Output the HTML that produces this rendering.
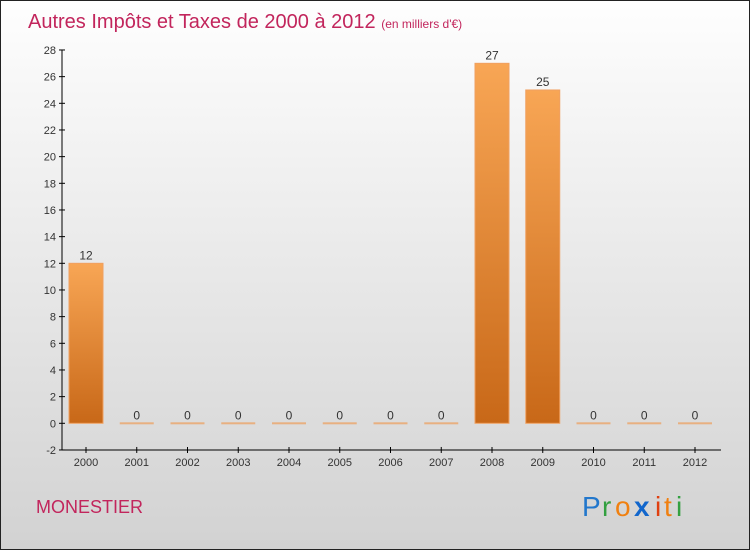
<!DOCTYPE html>
<html><head><meta charset="utf-8"><style>
body{margin:0;width:750px;height:550px;overflow:hidden;font-family:"Liberation Sans",sans-serif}
</style></head><body>
<svg width="750" height="550" xmlns="http://www.w3.org/2000/svg">
<defs>
<linearGradient id="bg" x1="0" y1="0" x2="0" y2="1"><stop offset="0" stop-color="#fefefe"/><stop offset="1" stop-color="#d2d2d2"/></linearGradient>
<linearGradient id="bar" x1="0" y1="0" x2="0" y2="1"><stop offset="0" stop-color="#f8a655"/><stop offset="1" stop-color="#c86818"/></linearGradient>
</defs>
<rect x="0.5" y="0.5" width="749" height="549" fill="url(#bg)" stroke="#222"/>
<text x="28" y="28" font-size="20" fill="#c2255c">Autres Impôts et Taxes de 2000 à 2012 <tspan font-size="12">(en milliers d'€)</tspan></text>
<g id="plot"></g>
<text x="36" y="513" font-size="18" fill="#c2255c">MONESTIER</text>
<g font-size="28">
<text x="582" y="516" fill="#2277cc">P</text><text x="602" y="516" fill="#33a040">r</text><text x="615" y="516" fill="#f08010">o</text><text x="634" y="516" fill="#1166cc" font-weight="bold">x</text><text x="655" y="516" fill="#e04010">i</text><text x="664" y="516" fill="#f08010">t</text><text x="676" y="516" fill="#33a040">i</text>
</g>
</svg>
<script>
const categories=["2000","2001","2002","2003","2004","2005","2006","2007","2008","2009","2010","2011","2012"];
const values=[12,0,0,0,0,0,0,0,27,25,0,0,0];
const yTicks=[-2,0,2,4,6,8,10,12,14,16,18,20,22,24,26,28];
const NS="http://www.w3.org/2000/svg";
const g=document.getElementById("plot");
const y=v=>423.3-(v)*13.333;
const x=i=>86+i*50.75;
function el(t,a,p){const e=document.createElementNS(NS,t);for(const k in a)e.setAttribute(k,a[k]);(p||g).appendChild(e);return e;}
const ax=el("line",{x1:62,y1:y(28),x2:62,y2:y(-2),stroke:"#000"});


const xx=el("line",{x1:62,y1:y(-2),x2:721,y2:y(-2),stroke:"#000"});


yTicks.forEach(t=>{
  el("line",{x1:59,x2:65,y1:y(t),y2:y(t),stroke:"#000"});
  const tx=el("text",{x:56,y:y(t)+4,"text-anchor":"end","font-size":11,fill:"#333"});
  tx.textContent=t;
  
  
});
categories.forEach((c,i)=>{
  const cx=x(i),v=values[i];
  el("line",{x1:cx,x2:cx,y1:y(-2)-3,y2:y(-2)+3,stroke:"#000"});
  const lt=el("text",{x:cx,y:466,"text-anchor":"middle","font-size":11,fill:"#333"});
  lt.textContent=c;
  
  
  let b;
  if(v>0){b=el("rect",{x:cx-17,y:y(v),width:34,height:y(0)-y(v),fill:"url(#bar)",stroke:"#f0a060"});}
  else{b=el("rect",{x:cx-17,y:y(0)-1,width:34,height:2,fill:"#e8b080"});}
  
  
  const vt=el("text",{x:cx,y:y(v)-4,"text-anchor":"middle","font-size":12,fill:"#333"});
  vt.textContent=v;
  
  
});
</script>
</body></html>
